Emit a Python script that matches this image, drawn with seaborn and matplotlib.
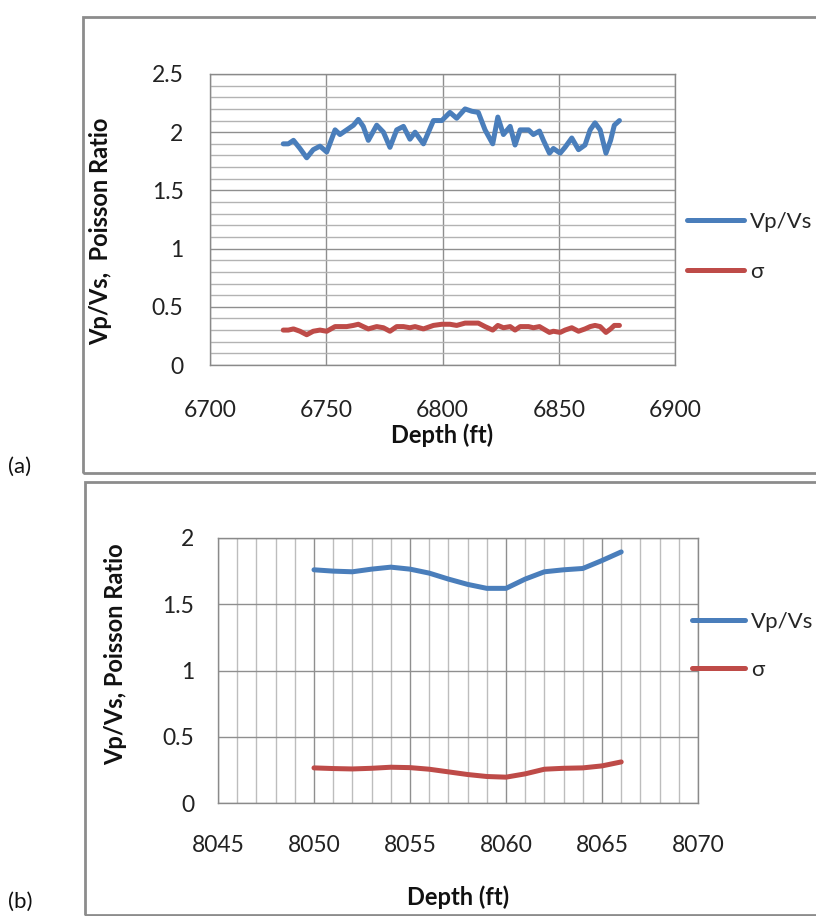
import matplotlib
matplotlib.use("Agg")
import matplotlib.pyplot as plt
import seaborn as sns
import pandas as pd
from matplotlib.patches import Rectangle
from matplotlib.ticker import MultipleLocator

# (a) upper interval
DEPTH_A = [6731.5, 6733.7, 6735.9, 6738.7, 6741.6, 6744.4, 6747.3, 6750.2, 6753.8, 6755.9,
           6758.8, 6761.7, 6763.8, 6765.9, 6768.1, 6771.7, 6774.6, 6777.4, 6780.3, 6783.2,
           6786.0, 6788.2, 6791.8, 6796.1, 6799.7, 6803.2, 6806.1, 6809.7, 6812.6, 6815.4,
           6818.3, 6821.6, 6823.8, 6826.2, 6829.1, 6831.2, 6833.4, 6837.0, 6839.1, 6841.7,
           6843.4, 6846.0, 6847.7, 6850.6, 6852.7, 6855.6, 6858.5, 6861.3, 6863.5, 6865.6,
           6867.8, 6870.3, 6872.3, 6873.9, 6876.1]
VPVS_A = [1.90, 1.90, 1.93, 1.86, 1.78, 1.85, 1.88, 1.83, 2.02, 1.98,
          2.02, 2.06, 2.11, 2.05, 1.93, 2.06, 2.00, 1.87, 2.02, 2.05,
          1.94, 2.00, 1.90, 2.10, 2.10, 2.17, 2.12, 2.20, 2.18, 2.17,
          2.02, 1.90, 2.13, 1.98, 2.05, 1.89, 2.02, 2.02, 1.98, 2.01,
          1.93, 1.82, 1.86, 1.82, 1.87, 1.95, 1.85, 1.89, 2.02, 2.08,
          2.02, 1.82, 1.93, 2.06, 2.10]
SIGMA_A = [0.30, 0.30, 0.31, 0.29, 0.26, 0.29, 0.30, 0.29, 0.33, 0.33,
           0.33, 0.34, 0.35, 0.33, 0.31, 0.33, 0.32, 0.29, 0.33, 0.33,
           0.32, 0.33, 0.31, 0.34, 0.35, 0.35, 0.34, 0.36, 0.36, 0.36,
           0.33, 0.30, 0.34, 0.32, 0.33, 0.30, 0.33, 0.33, 0.32, 0.33,
           0.31, 0.28, 0.29, 0.28, 0.30, 0.32, 0.29, 0.31, 0.33, 0.34,
           0.33, 0.28, 0.31, 0.34, 0.34]

# (b) lower interval
DEPTH_B = [8050, 8051, 8052, 8053, 8054, 8055, 8056, 8057, 8058,
           8059, 8060, 8061, 8062, 8063, 8064, 8065, 8066]
VPVS_B = [1.76, 1.75, 1.745, 1.765, 1.78, 1.765, 1.735, 1.69, 1.65,
          1.62, 1.62, 1.69, 1.745, 1.76, 1.77, 1.83, 1.895]
SIGMA_B = [0.265, 0.26, 0.257, 0.262, 0.27, 0.267, 0.255, 0.235, 0.215,
           0.20, 0.195, 0.22, 0.255, 0.262, 0.265, 0.28, 0.31]

BLUE = "#4A7EBB"
RED = "#BE4B48"
TICK_FS = 16.5
LABEL_FS = 17
LEG_FS = 16
LW = 3.6

sns.set_theme(style="white")
plt.rcParams["font.family"] = ["Lato", "DejaVu Sans"]

fig = plt.figure(figsize=(8.16, 9.16), dpi=100)
W, H = 816, 916


def px_axes(x0, y0, x1, y1):
    return fig.add_axes([x0 / W, 1 - y1 / H, (x1 - x0) / W, (y1 - y0) / H])


def style_axes(ax, ylab, ypad, xpad, xminor=None, yminor=None):
    for s in ax.spines.values():
        s.set_color("#8a8a8a")
        s.set_linewidth(1.0)
    ax.grid(True, which="major", color="#8f8f8f", linewidth=1.0)
    if xminor:
        ax.xaxis.set_minor_locator(MultipleLocator(xminor))
        ax.grid(True, which="minor", axis="x", color="#bdbdbd", linewidth=1.0)
    if yminor:
        ax.yaxis.set_minor_locator(MultipleLocator(yminor))
        ax.grid(True, which="minor", axis="y", color="#b3b3b3", linewidth=1.0)
    ax.set_axisbelow(True)
    ax.tick_params(which="major", direction="out", length=7, width=1, color="#8a8a8a",
                   labelsize=TICK_FS, labelcolor="#222222")
    ax.tick_params(axis="y", pad=ypad)
    ax.tick_params(axis="x", pad=xpad)
    ax.tick_params(which="minor", length=0)
    ax.set_xlabel("Depth (ft)", fontsize=LABEL_FS, fontweight="bold", color="#111111")
    ax.set_ylabel(ylab, fontsize=LABEL_FS, fontweight="bold", color="#111111")
    ax.yaxis.set_major_formatter(plt.FuncFormatter(lambda v, p: f"{v:g}"))


def draw_pair(ax, df):
    sns.lineplot(data=df, x="depth", y="Vp/Vs", ax=ax, color=BLUE, linewidth=LW,
                 label="Vp/Vs", estimator=None, legend=False)
    sns.lineplot(data=df, x="depth", y="σ", ax=ax, color=RED, linewidth=LW,
                 label="σ", estimator=None, legend=False)
    for ln in ax.lines:
        ln.set_solid_joinstyle("round")
        ln.set_solid_capstyle("round")


# ---------------- (a) ----------------
df_a = pd.DataFrame({"depth": DEPTH_A, "Vp/Vs": VPVS_A, "σ": SIGMA_A})
ax1 = px_axes(210, 74, 675, 365)
draw_pair(ax1, df_a)
ax1.set_xlim(6700, 6900)
ax1.set_ylim(0, 2.5)
ax1.xaxis.set_major_locator(MultipleLocator(50))
ax1.yaxis.set_major_locator(MultipleLocator(0.5))
style_axes(ax1, "Vp/Vs,  Poisson Ratio", ypad=12, xpad=18, yminor=0.1)
ax1.xaxis.set_label_coords(0.5, -0.2)
ax1.yaxis.set_label_coords(-0.21, 0.46)
h, l = ax1.get_legend_handles_labels()
fig.legend(h, l, loc="center left", bbox_to_anchor=(687 / W, 1 - 247 / H),
           frameon=False, fontsize=LEG_FS, handlelength=2.56, handletextpad=0.27,
           labelspacing=1.36, borderpad=0, borderaxespad=0)

# ---------------- (b) ----------------
df_b = pd.DataFrame({"depth": DEPTH_B, "Vp/Vs": VPVS_B, "σ": SIGMA_B})
ax2 = px_axes(218, 538, 698, 803)
draw_pair(ax2, df_b)
ax2.set_xlim(8045, 8070)
ax2.set_ylim(0, 2)
ax2.xaxis.set_major_locator(MultipleLocator(5))
ax2.yaxis.set_major_locator(MultipleLocator(0.5))
style_axes(ax2, "Vp/Vs, Poisson Ratio", ypad=10, xpad=16, xminor=1)
ax2.xaxis.set_label_coords(0.5, -0.31)
ax2.yaxis.set_label_coords(-0.19, 0.56)
h, l = ax2.get_legend_handles_labels()
fig.legend(h, l, loc="center left", bbox_to_anchor=(692 / W, 1 - 646 / H),
           frameon=False, fontsize=LEG_FS, handlelength=2.4, handletextpad=0.27,
           labelspacing=1.25, borderpad=0, borderaxespad=0)

# chart area frames and panel tags
fig.patches.append(Rectangle((83 / W, 1 - 473 / H), 1.0, 456 / H,
                             transform=fig.transFigure, fill=False,
                             edgecolor="#8c8c8c", linewidth=2))
fig.patches.append(Rectangle((85 / W, 1 - 915 / H), 1.0, 433 / H,
                             transform=fig.transFigure, fill=False,
                             edgecolor="#8c8c8c", linewidth=2))
fig.text(8 / W, 1 - 467 / H, "(a)", fontsize=LEG_FS, va="center", ha="left", color="#111111")
fig.text(8 / W, 1 - 902 / H, "(b)", fontsize=LEG_FS, va="center", ha="left", color="#111111")

fig.savefig("out.png", dpi=100)
